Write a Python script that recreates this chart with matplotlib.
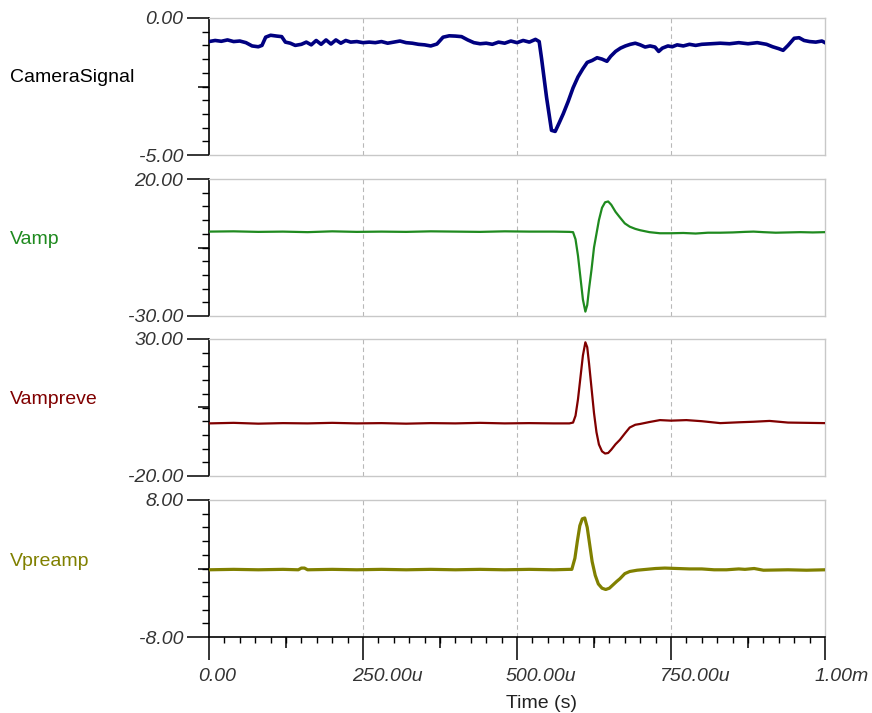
import matplotlib
matplotlib.use("Agg")
import matplotlib.pyplot as plt
import matplotlib.transforms as mtransforms
from matplotlib.ticker import FixedLocator, MultipleLocator, NullFormatter

plt.rcParams['font.family'] = ['Liberation Sans', 'DejaVu Sans']

# ---------------- data (time in microseconds) ----------------
cam_t = [0, 10, 20, 30, 40, 50, 60, 70, 80, 86, 92, 100, 110, 118, 124, 132, 140, 150,
         158, 166, 174, 182, 190, 198, 206, 214, 222, 230, 240, 250, 260, 270, 280, 290,
         300, 310, 320, 330, 340, 350, 360, 370, 380, 390, 400, 410, 420, 430, 440, 450,
         460, 470, 480, 490, 500, 510, 520, 530, 536, 540, 548, 556, 562, 568, 575, 583,
         591, 599, 607, 614, 622, 630, 638, 646, 652, 660, 668, 676, 684, 692, 700, 708,
         716, 724, 730, 736, 745, 752, 760, 770, 780, 790, 800, 815, 830, 845, 860, 875,
         890, 905, 915, 925, 932, 940, 950, 958, 966, 975, 985, 995, 1000]
cam_v = [-0.86, -0.82, -0.85, -0.80, -0.86, -0.84, -0.90, -1.02, -1.05, -1.00, -0.70, -0.63,
         -0.66, -0.68, -0.88, -0.92, -1.00, -0.96, -0.88, -0.98, -0.82, -0.96, -0.80, -0.95,
         -0.80, -0.92, -0.82, -0.88, -0.86, -0.90, -0.88, -0.90, -0.86, -0.92, -0.88, -0.84,
         -0.90, -0.92, -0.96, -0.98, -1.02, -0.95, -0.70, -0.65, -0.66, -0.68, -0.80, -0.90,
         -0.94, -0.92, -0.96, -0.88, -0.92, -0.84, -0.90, -0.82, -0.88, -0.78, -0.86, -1.50,
         -2.90, -4.10, -4.14, -3.85, -3.50, -3.05, -2.55, -2.15, -1.85, -1.62, -1.55, -1.45,
         -1.50, -1.58, -1.40, -1.22, -1.10, -1.02, -0.96, -0.92, -0.98, -1.06, -1.02, -1.06,
         -1.22, -1.10, -1.02, -1.05, -0.98, -1.02, -0.96, -1.00, -0.96, -0.94, -0.92, -0.94,
         -0.90, -0.94, -0.90, -0.96, -1.05, -1.12, -1.18, -1.00, -0.74, -0.72, -0.82, -0.86,
         -0.88, -0.84, -0.90]

vamp_t = [0, 40, 80, 120, 160, 200, 240, 280, 320, 360, 400, 440, 480, 520, 560, 585,
          591, 595, 599, 603, 607, 611, 614, 617, 621, 625, 629, 633, 638, 643, 648, 653,
          660, 667, 675, 683, 692, 700, 715, 732, 750, 770, 790, 810, 830, 850, 870, 884,
          900, 920, 940, 960, 980, 1000]
vamp_v = [0.8, 0.9, 0.7, 0.8, 0.6, 0.9, 0.7, 0.8, 0.7, 0.9, 0.8, 0.7, 0.9, 0.8, 0.8, 0.7,
          0.6, -2.0, -8.0, -16.0, -24.0, -28.4, -26.0, -20.0, -13.0, -5.0, 0.0, 5.0, 9.5,
          11.5, 11.8, 10.6, 8.0, 6.0, 3.8, 2.6, 1.8, 1.3, 0.6, 0.2, 0.2, 0.3, 0.1, 0.4, 0.4,
          0.5, 0.7, 0.8, 0.6, 0.4, 0.5, 0.6, 0.5, 0.6]

vrev_t = [0, 40, 80, 120, 160, 200, 240, 280, 320, 360, 400, 440, 480, 520, 560, 585,
          591, 595, 599, 603, 607, 611, 614, 617, 621, 625, 629, 633, 638, 643, 648, 653,
          660, 667, 675, 683, 692, 700, 715, 732, 750, 775, 800, 830, 860, 884, 910, 940,
          970, 1000]
vrev_v = [-0.8, -0.6, -0.9, -0.7, -0.8, -0.6, -0.8, -0.7, -0.9, -0.7, -0.8, -0.6, -0.8,
          -0.7, -0.8, -0.8, -0.5, 2.0, 8.0, 16.0, 24.0, 28.8, 27.0, 21.0, 12.0, 3.0, -4.0,
          -8.5, -11.0, -11.8, -11.6, -10.4, -8.4, -6.8, -4.5, -2.3, -1.3, -1.0, -0.3, 0.4,
          0.2, 0.4, 0.0, -0.7, -0.4, -0.2, 0.1, -0.5, -0.6, -0.7]

vpre_t = [0, 40, 80, 120, 145, 150, 155, 160, 200, 240, 280, 320, 360, 400, 440, 480,
          520, 560, 585, 589, 594, 598, 602, 606, 610, 614, 618, 622, 627, 632, 638, 644,
          650, 656, 662, 667, 675, 683, 695, 710, 725, 740, 760, 780, 800, 820, 840, 860,
          870, 885, 900, 940, 970, 1000]
vpre_v = [-0.15, -0.10, -0.15, -0.10, -0.15, 0.05, 0.05, -0.15, -0.10, -0.15, -0.10,
          -0.15, -0.10, -0.15, -0.10, -0.15, -0.10, -0.15, -0.10, -0.10, 1.2, 3.2, 5.0,
          5.8, 5.9, 4.8, 2.8, 0.8, -0.8, -1.8, -2.3, -2.45, -2.3, -1.9, -1.5, -1.2, -0.6,
          -0.35, -0.2, -0.1, 0.0, 0.05, 0.0, -0.05, -0.05, -0.15, -0.15, -0.05, -0.10,
          0.0, -0.20, -0.15, -0.20, -0.15]

names = ["CameraSignal", "Vamp", "Vampreve", "Vpreamp"]
series_t = [cam_t, vamp_t, vrev_t, vpre_t]
series_v = [cam_v, vamp_v, vrev_v, vpre_v]
y_limits = [(-5.0, 0.0), (-30.0, 20.0), (-20.0, 30.0), (-8.0, 8.0)]
y_tick_labels = [("-5.00", "0.00"), ("-30.00", "20.00"), ("-20.00", "30.00"), ("-8.00", "8.00")]
x_major = [0, 250, 500, 750, 1000]
x_tick_labels = ["0.00", "250.00u", "500.00u", "750.00u", "1.00m"]
x_medium = [125, 375, 625, 875]
grid_x = [250, 500, 750]

line_colors = ["#000080", "#1f8a1f", "#800000", "#808000"]
label_colors = ["#000000", "#1f8a1f", "#800000", "#808000"]
line_widths = [2.6, 1.6, 1.6, 2.3]

# ---------------- layout ----------------
W, H = 872, 713
fig = plt.figure(figsize=(W / 100, H / 100), dpi=100)
panel_px = [(18, 155), (179, 316), (339, 476), (500, 637)]
left_px, right_px = 209, 825
label_y_px = [78, 240, 400, 561]

px = 100 / 72.0  # pixels per point
axes = []
for i in range(4):
    top, bot = panel_px[i]
    ax = fig.add_axes([left_px / W, 1 - bot / H, (right_px - left_px) / W, (bot - top) / H])
    axes.append(ax)
    ax.plot(series_t[i], series_v[i], color=line_colors[i], lw=line_widths[i],
            solid_joinstyle='round', zorder=3)
    ax.set_xlim(0, 1000)
    ymin, ymax = y_limits[i]
    ax.set_ylim(ymin, ymax)

    for gx in grid_x:
        ax.axvline(gx, color="#b8b8b8", lw=0.8, ls=(0, (4, 3)), zorder=1)

    for s in ("top", "right", "bottom"):
        ax.spines[s].set_color("#c8c8c8")
        ax.spines[s].set_linewidth(1.0)
    ax.spines["left"].set_color("black")
    ax.spines["left"].set_linewidth(1.2)

    # y ticks
    ax.yaxis.set_major_locator(FixedLocator([ymin, ymax]))
    ax.set_yticklabels(list(y_tick_labels[i]))
    ax.yaxis.set_minor_locator(MultipleLocator((ymax - ymin) / 10))
    ax.yaxis.set_minor_formatter(NullFormatter())
    ax.tick_params(axis="y", which="major", direction="out", length=22 / px, width=1.1,
                   color="black", pad=4 / px, labelsize=14, labelcolor="#333333")
    ax.tick_params(axis="y", which="minor", direction="out", length=7 / px, width=1.0,
                   color="black")
    for lbl in ax.get_yticklabels():
        lbl.set_fontstyle("italic")

    sec = ax.secondary_yaxis("left")
    sec.set_yticks([(ymin + ymax) / 2])
    sec.set_yticklabels([""])
    sec.tick_params(direction="out", length=11 / px, width=1.1, color="black")
    sec.spines["left"].set_visible(False)

    # label
    fig.text(10 / W, 1 - label_y_px[i] / H, names[i], color=label_colors[i],
             fontsize=14, ha="left", va="center")

    if i < 3:
        ax.tick_params(axis="x", which="both", bottom=False, labelbottom=False)
        ax.set_xticks(x_major)
        ax.tick_params(axis="x", length=0)
    else:
        ax.spines["bottom"].set_color("black")
        ax.spines["bottom"].set_linewidth(1.2)
        ax.xaxis.set_major_locator(FixedLocator(x_major))
        ax.set_xticklabels(x_tick_labels)
        ax.xaxis.set_minor_locator(MultipleLocator(25))
        ax.xaxis.set_minor_formatter(NullFormatter())
        ax.tick_params(axis="x", which="major", direction="out", length=23 / px, width=1.1,
                       color="black", pad=8 / px, labelsize=14, labelcolor="#333333")
        ax.tick_params(axis="x", which="minor", direction="out", length=6 / px, width=1.0,
                       color="black")
        offset = mtransforms.ScaledTranslation(-11 / 100, 0, fig.dpi_scale_trans)
        for lbl in ax.get_xticklabels():
            lbl.set_fontstyle("italic")
            lbl.set_ha("left")
            lbl.set_transform(lbl.get_transform() + offset)
        secx = ax.secondary_xaxis("bottom")
        secx.set_xticks(x_medium)
        secx.set_xticklabels([""] * len(x_medium))
        secx.tick_params(direction="out", length=11 / px, width=1.1, color="black")
        secx.spines["bottom"].set_visible(False)

fig.text(541 / W, 1 - 703 / H, "Time (s)", fontsize=14, color="#222222",
         ha="center", va="center")

fig.savefig("out.png", dpi=100)
